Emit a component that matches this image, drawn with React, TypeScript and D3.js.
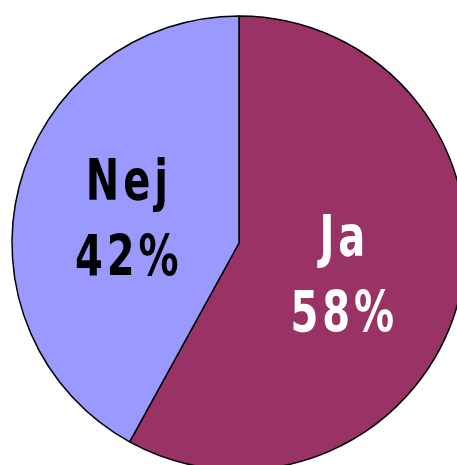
import React from 'react';
import * as d3 from 'd3';

// ─── 数据 ────────────────────────────────────────────────
const labels = ['Ja', 'Nej'];
const values = [58, 42];
const colors = ['#993366', '#9999FF'];
const textColors = ['#ffffff', '#000000'];

const W = 457;
const H = 465;
const cx = 239;
const cy = 243;
const R = 227;

export default function App() {
  const pie = d3.pie<number>().sort(null).value(d => d);
  const arcs = pie(values);
  const arc = d3.arc<d3.PieArcDatum<number>>().innerRadius(0).outerRadius(R);
  const labelArc = d3.arc<d3.PieArcDatum<number>>().innerRadius(R * 0.49).outerRadius(R * 0.49);

  return (
    <svg width={W} height={H} style={{ position: 'absolute', left: 0, top: 0, background: '#fff' }}>
      <g transform={`translate(${cx},${cy})`}>
        {arcs.map((a, i) => (
          <path key={labels[i]} d={arc(a) ?? ''} fill={colors[i]} stroke="#000" strokeWidth={1.5} strokeLinejoin="round" />
        ))}
        {arcs.map((a, i) => {
          const [x, y] = labelArc.centroid(a);
          return (
            <g key={labels[i]} transform={`translate(${x - 4},${y}) scale(0.78,1)`}>
              <text
                textAnchor="middle"
                fill={textColors[i]}
                fontFamily="'DejaVu Sans Condensed', 'DejaVu Sans', sans-serif"
                fontStretch="condensed"
                fontWeight="bold"
                fontSize={57}
                letterSpacing={5}
              >
                <tspan x={2} y={-15}>{labels[i]}</tspan>
                <tspan x={2} y={61}>{values[i]}%</tspan>
              </text>
            </g>
          );
        })}
      </g>
    </svg>
  );
}
